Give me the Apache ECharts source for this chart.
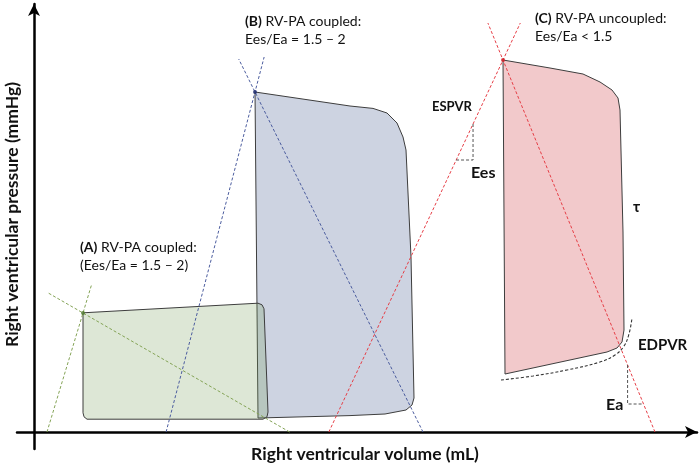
<!DOCTYPE html>
<html>
<head>
<meta charset="utf-8">
<script src="https://cdn.jsdelivr.net/npm/echarts@6/dist/echarts.min.js"></script>
<style>
  html, body { margin: 0; padding: 0; background: #fff; }
  #chart { width: 699px; height: 464px; }
</style>
</head>
<body>
<div id="chart"></div>
<script>
// schematic units: volume on x, pressure on y
const loopA = [[9.8, 29.8], [44.8, 32.2], [45.6, 31.8], [46.0, 30.8], [46.8, 5.0], [46.6, 3.8], [45.8, 3.2], [10.6, 3.2], [10.0, 3.8], [9.8, 4.8]]
const loopB = [[44.2, 85], [63.2, 81.5], [67.8, 80.9], [70.6, 79.75], [72.6, 77.25], [73.8, 73.75], [74.4, 70.5], [75.4, 43.75], [76, 8.5], [75.6, 6.75], [74.4, 5.5], [70.2, 4.5], [63.2, 4.1], [44.8, 3.5]]
const loopC = [[93.8, 93], [103.2, 91], [109.8, 89.5], [113.2, 87.5], [115.6, 85.5], [116.8, 83.5], [117.2, 80.5], [117.8, 50], [118, 25.5], [117.6, 22.5], [116.6, 21], [114.6, 20], [94.2, 14.5]]
const edpvr = [[93.4, 13], [99.8, 14], [106.6, 15.5], [113.2, 17.5], [116.2, 19.25], [118, 21.5], [119, 24.5], [119.6, 28.5]]

// end-systolic points and slopes
const esPoints = { A: [9.8, 29.75], B: [44.2, 85], C: [93.8, 93] }
const ees = { A: 4.13, B: 4.78, C: 2.67 }
const ea = { A: 0.72, B: 2.53, C: 3.06 }
// pressure where each dashed line stops at the top
const eesTop = { A: 36.75, B: 93.75, C: 102.25 }
const eaTop = { A: 34.75, B: 93.25, C: 102.25 }

// pressure levels of the slope triangles (on loop C lines)
const eesTriangle = [68, 77]
const eaTriangle = [7, 16.75]

const colors = { A: '#84a356', B: '#4b5c9e', C: '#e63e46' }
const fills = { A: 'rgba(120,160,90,0.25)', B: '#cdd3e1', C: '#f2c9cb' }

function espvrAt(k, p) {
  return esPoints[k][0] + (p - esPoints[k][1]) / ees[k]
}
function eaAt(k, p) {
  return esPoints[k][0] - (p - esPoints[k][1]) / ea[k]
}

function loopSeries(name, pts, fill) {
  return {
    type: 'custom',
    name: name,
    data: pts,
    z: 1,
    renderItem: function (params, api) {
      if (params.dataIndex > 0) return
      return {
        type: 'polygon',
        shape: { points: pts.map(function (d) { return api.coord(d) }) },
        style: { fill: fill, stroke: '#3d3d3d', lineWidth: 1 }
      }
    }
  }
}

function dashed(data, color, width) {
  return {
    type: 'line',
    data: data,
    showSymbol: false,
    silent: true,
    z: 3,
    lineStyle: { color: color, width: width || 1, type: [3, 2] }
  }
}

const series = [
  loopSeries('B', loopB, fills.B),
  loopSeries('C', loopC, fills.C),
  loopSeries('A', loopA, fills.A)
]

;['A', 'B', 'C'].forEach(function (k) {
  series.push(dashed([[espvrAt(k, 0), 0], [espvrAt(k, eesTop[k]), eesTop[k]]], colors[k]))
  series.push(dashed([[eaAt(k, 0), 0], [eaAt(k, eaTop[k]), eaTop[k]]], colors[k]))
})

series.push({
  type: 'scatter',
  data: [esPoints.A, esPoints.B, esPoints.C],
  symbolSize: 4,
  z: 4,
  itemStyle: {
    color: function (p) { return ['#4f7a2e', '#1f2c6e', '#d01f28'][p.dataIndex] }
  }
})

// EDPVR curve
series.push(Object.assign(dashed(edpvr, '#333', 1.1), { smooth: 0.4 }))

// Ees triangle
series.push(dashed([
  [espvrAt('C', eesTriangle[1]), eesTriangle[1]],
  [espvrAt('C', eesTriangle[1]), eesTriangle[0]],
  [espvrAt('C', eesTriangle[0]), eesTriangle[0]]
], '#555'))
// Ea triangle
series.push(dashed([
  [eaAt('C', eaTriangle[1]), eaTriangle[1]],
  [eaAt('C', eaTriangle[1]), eaTriangle[0]],
  [eaAt('C', eaTriangle[0]), eaTriangle[0]]
], '#555'))

const font = 'Lato, "Open Sans", sans-serif'

function note(x, y, text, size, bold) {
  return {
    type: 'text',
    x: x,
    y: y,
    z: 10,
    style: {
      text: text,
      fill: '#111',
      font: (bold ? 'bold ' : '') + size + 'px ' + font,
      verticalAlign: 'middle',
      rich: { b: { fontWeight: 'bold', fontSize: size, fontFamily: font } }
    }
  }
}

const myChart = echarts.init(document.getElementById('chart'))
myChart.setOption({
  animation: false,
  grid: { left: 17, right: 2, top: 4, bottom: 15, containLabel: false, outerBoundsMode: 'none' },
  xAxis: {
    type: 'value',
    min: -3.4,
    max: 132.6,
    name: 'Right ventricular volume (mL)',
    nameLocation: 'middle',
    nameGap: -4,
    nameTextStyle: { fontFamily: font, fontWeight: 'bold', fontSize: 17.5, color: '#111', padding: [0, 0, 0, 16] },
    axisLine: { onZero: true, symbol: ['none', 'arrow'], symbolSize: [9, 12], lineStyle: { color: '#000', width: 2.5 } },
    axisTick: { show: false },
    axisLabel: { show: false },
    splitLine: { show: false }
  },
  yAxis: {
    type: 'value',
    min: -4.25,
    max: 107,
    name: 'Right ventricular pressure (mmHg)',
    nameLocation: 'middle',
    nameGap: -4,
    nameTextStyle: { fontFamily: font, fontWeight: 'bold', fontSize: 17.5, color: '#111', padding: [0, 0, 0, 24] },
    axisLine: { onZero: true, symbol: ['none', 'arrow'], symbolSize: [9, 12], lineStyle: { color: '#000', width: 2.5 } },
    axisTick: { show: false },
    axisLabel: { show: false },
    splitLine: { show: false }
  },
  graphic: [
    note(245, 21, '{b|(B)} RV-PA coupled:', 14),
    note(245, 39, 'Ees/Ea = 1.5 – 2', 14),
    note(535, 18, '{b|(C)} RV-PA uncoupled:', 14),
    note(535, 36, 'Ees/Ea < 1.5', 14),
    note(80, 247, '{b|(A)} RV-PA coupled:', 14),
    note(80, 265, '(Ees/Ea = 1.5 – 2)', 14),
    note(432, 107, 'ESPVR', 13, true),
    note(471, 173, 'Ees', 16, true),
    note(633, 207, 'τ', 15, true),
    note(638, 345, 'EDPVR', 15, true),
    note(606, 405, 'Ea', 16, true)
  ],
  series: series
})
</script>
</body>
</html>
